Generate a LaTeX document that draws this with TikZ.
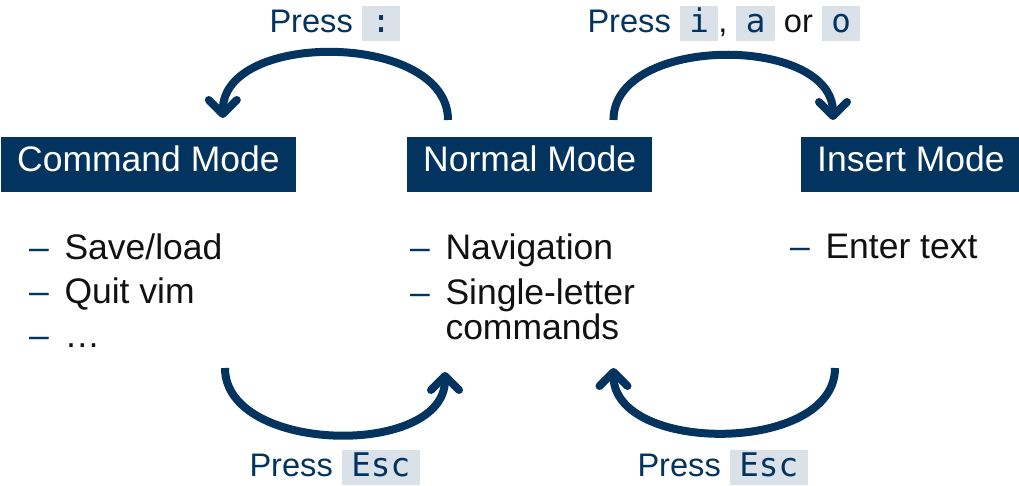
\documentclass[tikz,border=0pt]{standalone}
\usepackage{fontspec}
\setmainfont{Liberation Sans}
\setmonofont{DejaVu Sans Mono}
\usetikzlibrary{arrows.meta}
\definecolor{vimBlue}{HTML}{03335F}
\definecolor{vimKey}{HTML}{DAE1E9}
\definecolor{vimInk}{HTML}{111111}
\newcommand{\vimkey}[1]{{\setlength{\fboxsep}{0pt}\colorbox{vimKey}{\rule[-4pt]{0pt}{17.5pt}\hspace{4.7pt}\texttt{#1}\hspace{4.7pt}}}}
\newcommand{\vimdash}{\makebox[17.75pt][l]{\textcolor{vimBlue}{\textendash}}}
\tikzset{
  vim diagram/.style={
    x=0.5pt, y=0.5pt,
    >={Straight Barb[length=7pt,width=14pt,round]},
    every node/.style={inner sep=0pt, outer sep=0pt}
  },
  vim mode/.style={fill=vimBlue, text=white, anchor=west,
    font=\fontsize{17.75}{21}\selectfont, inner xsep=8.1pt,
    text height=0.73em, text depth=0pt, minimum height=27.5pt},
  vim item/.style={anchor=base west, text=vimInk,
    font=\fontsize{17.75}{21}\selectfont},
  vim press/.style={anchor=base west, text=vimBlue,
    font=\fontsize{16.3}{19}\selectfont},
  vim arrow/.style={draw=vimBlue, ->, line width=4pt}
}
\begin{document}
\begin{tikzpicture}[vim diagram]
  \useasboundingbox (0,0) rectangle (1019,486);
  \node[vim mode] (command) at (1,321.5) {Command Mode};
  \node[vim mode] (normal) at (407,321.5) {Normal Mode};
  \node[vim mode] (insert) at (801,321.5) {Insert Mode};
  \node[vim item] (cmdsave) at (29,226) {\vimdash Save/load};
  \node[vim item] (cmdquit) at (29,182) {\vimdash Quit vim};
  \node[vim item] (cmdmore) at (29,138) {\vimdash …};
  \node[vim item] (nrmnav) at (410,226) {\vimdash Navigation};
  \node[vim item] (nrmsingle) at (410,181) {\vimdash Single-letter};
  \node[vim item] (nrmcmds) at (445.5,146) {commands};
  \node[vim item] (instext) at (790,227) {\vimdash Enter text};
  \node[vim press] (presscolon) at (269.5,453) {Press \vimkey{:}};
  \node[vim press] (pressinsert) at (587.5,453)
    {Press \vimkey{i}\textcolor{vimInk}{,} \vimkey{a} \textcolor{vimInk}{or} \vimkey{o}};
  \node[vim press] (pressescleft) at (249.5,9) {Press \vimkey{Esc}};
  \node[vim press] (pressescright) at (637.5,9) {Press \vimkey{Esc}};
  \draw[vim arrow] ([shift={(41,17)}]normal.north west)
    to[out=90,in=90] ([shift={(-73,19)}]command.north east);
  \draw[vim arrow] ([shift={(-39,17)}]normal.north east)
    to[out=90,in=90] ([shift={(32,17)}]insert.north west);
  \draw[vim arrow] ([shift={(224,-176)}]command.south west)
    to[out=-90,in=-90] ([shift={(38,-180)}]normal.south west);
  \draw[vim arrow] ([shift={(34,-176)}]insert.south west)
    to[out=-90,in=-90] ([shift={(-39,-176)}]normal.south east);
\end{tikzpicture}
\end{document}
